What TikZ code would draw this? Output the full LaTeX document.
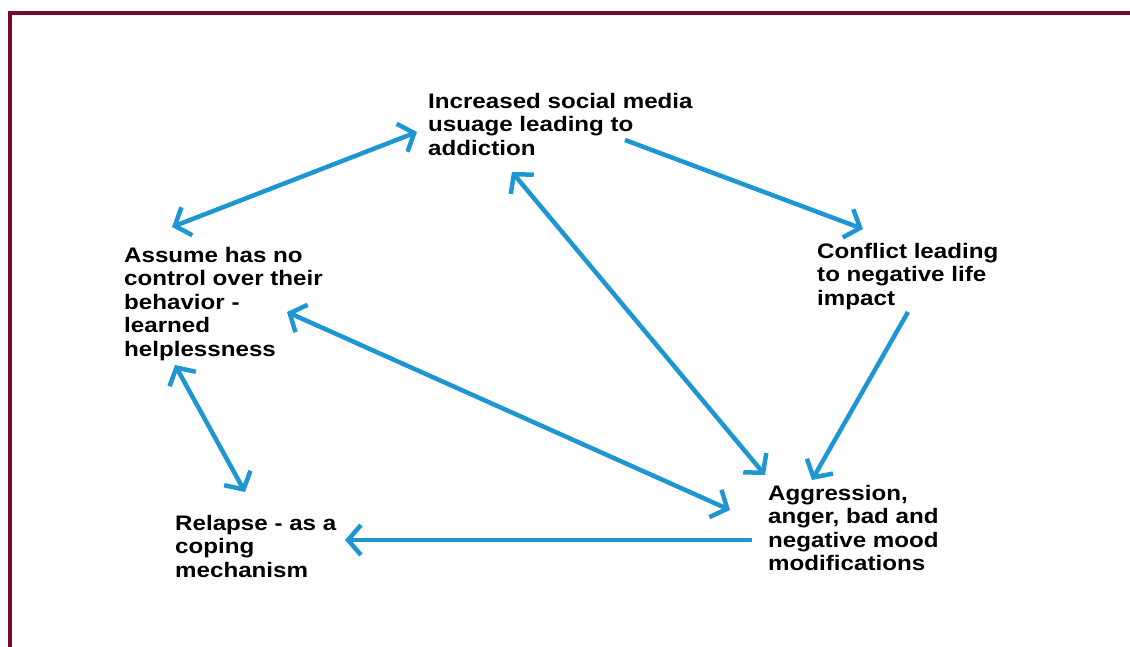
\documentclass[tikz,border=0pt]{standalone}
\usepackage{fontspec}
\newfontfamily\lblfont[FakeStretch=1.15]{Liberation Sans}
\usepackage{xcolor}
\usepackage{tikz}
\usetikzlibrary{arrows.meta, positioning, calc}

\definecolor{framered}{RGB}{120,10,40}
\definecolor{arrowblue}{RGB}{30,150,210}

\begin{document}
\begin{tikzpicture}[
  x=1pt, y=-1pt,
  lbl/.style={anchor=north west, inner sep=0pt, align=left,
              font=\lblfont\bfseries\fontsize{21}{23.5}\selectfont},
  arr/.style={draw=arrowblue, line width=4.5pt,
              >={Straight Barb[length=13pt, width=30pt]}},
  frame/.style={draw=framered, line width=4.5pt, line cap=round},
]
\useasboundingbox (0,0) rectangle (1130,647);
\draw[frame] (10,649) -- (10,13) -- (1132,13);

\node[lbl] (inc) at (428,93)  {Increased social media\\usuage leading to\\addiction};
\node[lbl] (ass) at (124,247) {Assume has no\\control over their\\behavior -\\learned\\helplessness};
\node[lbl] (con) at (817,243) {Conflict leading\\to negative life\\impact};
\node[lbl] (agg) at (768,485) {Aggression,\\anger, bad and\\negative mood\\modifications};
\node[lbl] (rel) at (175,515) {Relapse - as a\\coping\\mechanism};

\draw[arr, <->] ([shift={(-11,39)}]inc.north west) -- ([shift={(48,-20)}]ass.north west);
\draw[arr, ->] ([shift={(197,47)}]inc.north west) -- ([shift={(46,-14)}]con.north west);
\draw[arr, ->] ([shift={(91,69)}]con.north west) -- ([shift={(44,-5)}]agg.north west);
\draw[arr, <->] ([shift={(84,79)}]inc.north west) -- ([shift={(-3,-10)}]agg.north west);
\draw[arr, <->] ([shift={(163,65)}]ass.north west) -- ([shift={(-38,25)}]agg.north west);
\draw[arr, <->] ([shift={(51,118)}]ass.north west) -- ([shift={(70,-23)}]rel.north west);
\draw[arr, ->] ([shift={(-16,55)}]agg.north west) -- ([shift={(170,25)}]rel.north west);
\end{tikzpicture}
\end{document}
